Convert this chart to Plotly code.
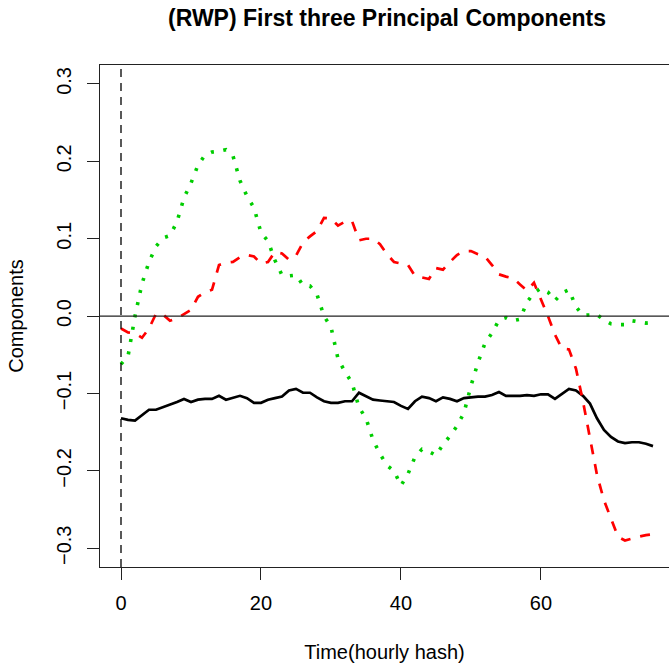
import plotly.graph_objects as go

t = list(range(77))

pc1 = [-0.132, -0.134, -0.135, -0.128, -0.121, -0.121, -0.118, -0.115, -0.111, -0.107,
       -0.111, -0.108, -0.107, -0.107, -0.103, -0.108, -0.105, -0.103, -0.106, -0.112,
       -0.112, -0.108, -0.106, -0.104, -0.096, -0.094, -0.099, -0.099, -0.105, -0.110,
       -0.112, -0.112, -0.110, -0.110, -0.099, -0.104, -0.108, -0.109, -0.110, -0.111,
       -0.116, -0.120, -0.110, -0.104, -0.106, -0.110, -0.105, -0.107, -0.110, -0.106,
       -0.105, -0.104, -0.104, -0.102, -0.098, -0.103, -0.103, -0.103, -0.102, -0.103,
       -0.101, -0.101, -0.107, -0.101, -0.094, -0.096, -0.103, -0.113, -0.132, -0.147,
       -0.156, -0.162, -0.164, -0.163, -0.163, -0.165, -0.168]

pc2 = [-0.016, -0.021, -0.022, -0.028, -0.016, 0.003, 0.002, -0.006, -0.003, 0.003,
       0.008, 0.025, 0.031, 0.034, 0.066, 0.069, 0.070, 0.076, 0.079, 0.077,
       0.068, 0.070, 0.083, 0.081, 0.073, 0.078, 0.095, 0.103, 0.110, 0.127,
       0.126, 0.117, 0.122, 0.123, 0.098, 0.100, 0.100, 0.093, 0.080, 0.070,
       0.068, 0.066, 0.052, 0.050, 0.048, 0.062, 0.060, 0.070, 0.079, 0.084,
       0.084, 0.080, 0.077, 0.066, 0.054, 0.051, 0.049, 0.041, 0.033, 0.043,
       0.022, 0.000, -0.024, -0.042, -0.043, -0.068, -0.110, -0.156, -0.205, -0.238,
       -0.262, -0.285, -0.290, -0.287, -0.285, -0.283, -0.282]

pc3 = [-0.062, -0.052, 0.000, 0.042, 0.070, 0.090, 0.101, 0.104, 0.122, 0.153,
       0.172, 0.195, 0.208, 0.212, 0.213, 0.215, 0.207, 0.175, 0.155, 0.140,
       0.108, 0.097, 0.072, 0.053, 0.052, 0.053, 0.040, 0.039, 0.028, 0.000,
       -0.014, -0.055, -0.072, -0.086, -0.118, -0.132, -0.160, -0.178, -0.193, -0.200,
       -0.219, -0.204, -0.182, -0.172, -0.175, -0.180, -0.166, -0.155, -0.142, -0.125,
       -0.090, -0.060, -0.035, -0.022, -0.005, -0.002, -0.006, -0.004, 0.018, 0.030,
       0.036, 0.031, 0.020, 0.030, 0.034, 0.012, 0.001, 0.001, 0.002, -0.005,
       -0.010, -0.011, -0.011, -0.006, -0.008, -0.009, -0.008]

x_ticks = [0, 20, 40, 60]
y_ticks = [-0.3, -0.2, -0.1, 0.0, 0.1, 0.2, 0.3]
y_tick_text = ["\u22120.3", "\u22120.2", "\u22120.1", "0.0", "0.1", "0.2", "0.3"]

FONT = "Liberation Sans, Arial, Helvetica, sans-serif"

fig = go.Figure()
fig.add_trace(go.Scatter(x=t, y=pc1, mode="lines",
                         line=dict(color="black", width=2.7), showlegend=False))
fig.add_trace(go.Scatter(x=t, y=pc2, mode="lines",
                         line=dict(color="#FF0000", width=2.7, dash="10px,10px"), showlegend=False))
fig.add_trace(go.Scatter(x=t, y=pc3, mode="lines",
                         line=dict(color="#00CD00", width=3.6, dash="3px,9.5px"), showlegend=False))

# reference lines
fig.add_hline(y=0, line=dict(color="#222222", width=1.3))
fig.add_vline(x=0, line=dict(color="black", width=1.3, dash="8px,6px"))

fig.update_layout(
    width=669, height=668,
    margin=dict(l=100, r=0, t=65, b=101),
    paper_bgcolor="white", plot_bgcolor="white",
    font=dict(family=FONT, size=20, color="black"),
    title=dict(text="<b>(RWP) First three Principal Components</b>",
               x=387 / 669, xanchor="center", xref="container",
               y=1 - 18 / 668, yanchor="middle", yref="container",
               font=dict(family=FONT, size=23, color="black")),
    xaxis=dict(range=[-3.0, 78.29], tickvals=x_ticks, showgrid=False, zeroline=False,
               showline=True, mirror=True, linecolor="#222222", linewidth=1.3,
               ticks="outside", ticklen=12, tickwidth=1.2, tickcolor="#222222",
               ticklabelstandoff=6,
               title=dict(text="Time(hourly hash)", standoff=31,
                          font=dict(family=FONT, size=20))),
    yaxis=dict(range=[-0.3242, 0.3245], tickvals=y_ticks, ticktext=y_tick_text,
               tickangle=-90, showgrid=False, zeroline=False,
               showline=True, mirror=False, linecolor="#222222", linewidth=1.3,
               ticks="outside", ticklen=12, tickwidth=1.2, tickcolor="#222222",
               ticklabelstandoff=8,
               title=dict(text="Components", standoff=23,
                          font=dict(family=FONT, size=20))),
)

fig.write_html("out.html")
